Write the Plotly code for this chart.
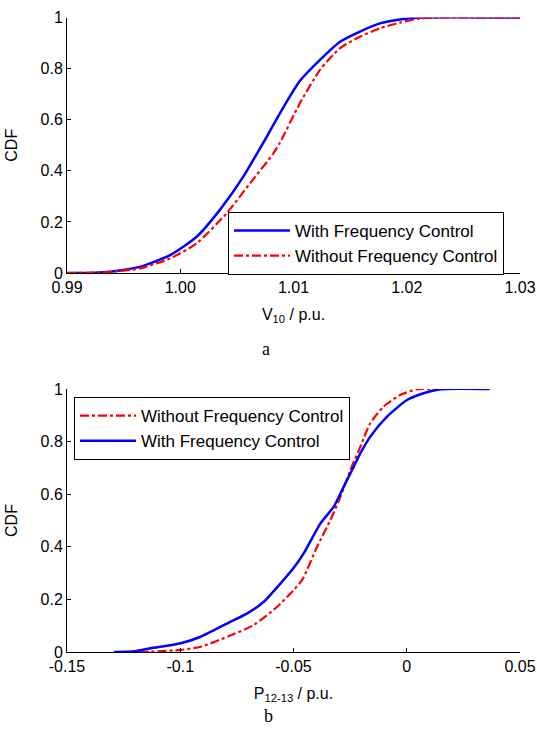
import plotly.graph_objects as go

# ---- Data ----
v10_with_x = [0.990, 0.9925, 0.9938, 0.9965, 0.9991, 1.00145, 1.0035, 1.00557, 1.00763, 1.0088,
              1.01057, 1.01234, 1.01411, 1.01587, 1.01764, 1.0194, 1.0212, 1.030]
v10_with_y = [0, 0.001, 0.005, 0.025, 0.07, 0.142, 0.247, 0.377, 0.533, 0.625,
              0.752, 0.834, 0.905, 0.945, 0.977, 0.992, 1.0, 1.0]
v10_without_x = [0.990, 0.9935, 0.99645, 0.9991, 1.00145, 1.0041, 1.00616, 1.00822, 1.0088,
                 1.01057, 1.01234, 1.01411, 1.01587, 1.01764, 1.0194, 1.0212, 1.0229, 1.030]
v10_without_y = [0, 0.003, 0.018, 0.057, 0.116, 0.234, 0.351, 0.468, 0.51,
                 0.665, 0.795, 0.88, 0.925, 0.958, 0.98, 0.997, 1.0, 1.0]

p_with_x = [-0.1292, -0.12, -0.113, -0.0998, -0.091, -0.0792, -0.0704, -0.0631, -0.0557,
            -0.0499, -0.0455, -0.0381, -0.0322, -0.0278, -0.0234, -0.0205, -0.0161, -0.0087,
            0.0001, 0.0074, 0.0148, 0.0366]
p_with_y = [0, 0.003, 0.014, 0.033, 0.058, 0.109, 0.147, 0.191, 0.261,
            0.32, 0.375, 0.489, 0.553, 0.629, 0.705, 0.755, 0.819, 0.895,
            0.958, 0.984, 0.999, 1.0]
p_without_x = [-0.118, -0.113, -0.0998, -0.091, -0.0792, -0.0675, -0.0572, -0.0513, -0.0462,
               -0.0396, -0.0337, -0.0293, -0.0249, -0.0205, -0.0161, -0.0102, -0.0029, 0.0045,
               0.016]
p_without_y = [0, 0.001, 0.008, 0.02, 0.058, 0.103, 0.172, 0.223, 0.274,
               0.4, 0.502, 0.59, 0.692, 0.78, 0.87, 0.933, 0.977, 0.999,
               1.0]

top_xticks = [0.99, 1.00, 1.01, 1.02, 1.03]
top_xticktext = ["0.99", "1.00", "1.01", "1.02", "1.03"]
bot_xticks = [-0.15, -0.1, -0.05, 0, 0.05]
bot_xticktext = ["-0.15", "-0.1", "-0.05", "0", "0.05"]
yticks = [0, 0.2, 0.4, 0.6, 0.8, 1]
yticktext = ["0", "0.2", "0.4", "0.6", "0.8", "1"]

name_with = "With Frequency Control"
name_without = "Without Frequency Control"

BLUE = "#0000FF"
RED = "#FF0000"
FONT = "Liberation Sans, Arial, sans-serif"
W, H = 537, 737

fig = go.Figure()

# top subplot
fig.add_trace(go.Scatter(x=v10_with_x, y=v10_with_y, mode="lines", name=name_with,
                         line=dict(color=BLUE, width=2.5, shape="spline", smoothing=0.6),
                         xaxis="x", yaxis="y", legend="legend"))
fig.add_trace(go.Scatter(x=v10_without_x, y=v10_without_y, mode="lines", name=name_without,
                         line=dict(color=RED, width=2.2, dash="dashdot", shape="spline", smoothing=0.6),
                         xaxis="x", yaxis="y", legend="legend"))
# bottom subplot
fig.add_trace(go.Scatter(x=p_without_x, y=p_without_y, mode="lines", name=name_without,
                         line=dict(color=RED, width=2.2, dash="dashdot", shape="spline", smoothing=0.6),
                         xaxis="x2", yaxis="y2", legend="legend2"))
fig.add_trace(go.Scatter(x=p_with_x, y=p_with_y, mode="lines", name=name_with,
                         line=dict(color=BLUE, width=2.5, shape="spline", smoothing=0.6),
                         xaxis="x2", yaxis="y2", legend="legend2"))

axis_common = dict(showline=True, linecolor="black", linewidth=1, mirror=False,
                   ticks="inside", ticklen=4, tickcolor="black", showgrid=False, zeroline=False,
                   automargin=False,
                   tickfont=dict(family=FONT, size=16, color="black"))

xdom = [67 / W, 520 / W]
fig.update_layout(
    width=W, height=H,
    margin=dict(l=0, r=0, t=0, b=0, autoexpand=False),
    paper_bgcolor="white", plot_bgcolor="white",
    font=dict(family=FONT, size=16, color="black"),
    xaxis=dict(domain=xdom, anchor="y", range=[0.99, 1.03], tickvals=top_xticks,
               ticktext=top_xticktext,
               title=dict(text="V<sub>10</sub> / p.u.", standoff=13,
                          font=dict(family=FONT, size=16)), **axis_common),
    yaxis=dict(domain=[1 - 273 / H, 1 - 17.5 / H], anchor="x", range=[0, 1],
               tickvals=yticks, ticktext=yticktext,
               title=dict(text="CDF", standoff=18, font=dict(family=FONT, size=16)),
               **axis_common),
    xaxis2=dict(domain=xdom, anchor="y2", range=[-0.15, 0.05], tickvals=bot_xticks,
                ticktext=bot_xticktext,
                title=dict(text="P<sub>12-13</sub> / p.u.", standoff=13,
                           font=dict(family=FONT, size=16)), **axis_common),
    yaxis2=dict(domain=[1 - 652 / H, 1 - 389 / H], anchor="x2", range=[0, 1],
                tickvals=yticks, ticktext=yticktext,
                title=dict(text="CDF", standoff=18, font=dict(family=FONT, size=16)),
                **axis_common),
    legend=dict(x=228 / W, y=1 - 212 / H, xanchor="left", yanchor="top",
                bgcolor="white", bordercolor="black", borderwidth=1,
                font=dict(family=FONT, size=17), itemwidth=56, tracegroupgap=0),
    legend2=dict(x=74 / W, y=1 - 397 / H, xanchor="left", yanchor="top",
                 bgcolor="white", bordercolor="black", borderwidth=1,
                 font=dict(family=FONT, size=17), itemwidth=56, tracegroupgap=0),
    showlegend=True,
    annotations=[
        dict(text="a", x=266 / W, y=1 - 349 / H, xref="paper", yref="paper",
             showarrow=False, font=dict(family="Liberation Serif, Times New Roman, serif", size=18)),
        dict(text="b", x=268 / W, y=1 - 728 / H, xref="paper", yref="paper",
             showarrow=False, font=dict(family="Liberation Serif, Times New Roman, serif", size=18)),
    ],
)

fig.write_html("out.html", config={"displayModeBar": False},
               post_script="document.body.style.margin='0';document.body.style.overflow='hidden';")
